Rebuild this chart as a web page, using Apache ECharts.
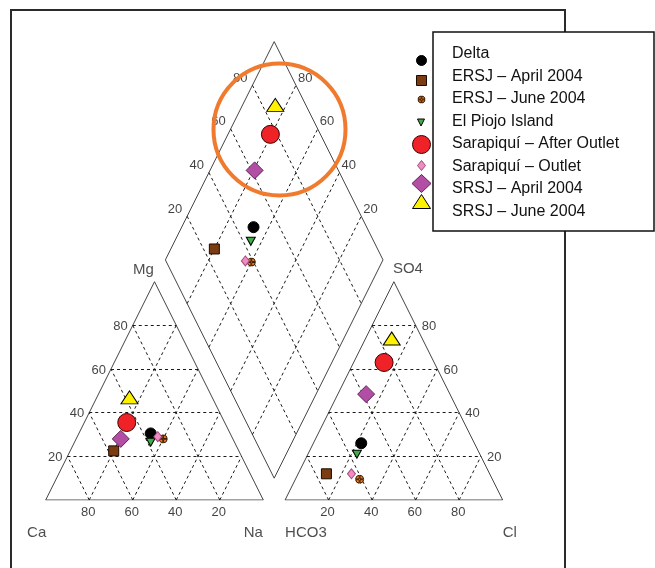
<!DOCTYPE html>
<html><head><meta charset="utf-8">
<script src="https://cdn.jsdelivr.net/npm/echarts@6/dist/echarts.min.js"></script>
<style>html,body{margin:0;padding:0;background:#fff}#c{width:655px;height:568px}</style>
</head><body><div id="c"></div>
<script>
// ---- data (percent of meq) ----
const sampleNames = ['Delta','ERSJ – April 2004','ERSJ – June 2004','El Piojo Island','Sarapiquí – After Outlet','Sarapiquí – Outlet','SRSJ – April 2004','SRSJ – June 2004'];
const caPct   = [36.5, 57.5, 32,   38.5, 45,   34,   51.5, 38];
const mgPct   = [30.5, 22.5, 28,   26.5, 35.5, 29,   28,   47];
const naPct   = [33,   20,   40,   35,   19.5, 37,   20.5, 15];
const hco3Pct = [52,   75,   61,   56.5, 23,   63.5, 38.5, 14];
const so4Pct  = [26,   12,   9.5,  21,   63,   12,   48.5, 74];
const clPct   = [22,   13,   29.5, 22.5, 14,   24.5, 13,   12];
const tickValues = [20, 40, 60, 80];
const cationLabels = ['Ca', 'Mg', 'Na'];
const anionLabels = ['HCO3', 'SO4', 'Cl'];

// ---- Piper geometry (plot units) ----
const GAP = 10;
function cat(ca, mg, na) { const t = ca + mg + na; return [(0.5 * mg + na) / t * 100, mg / t * 100]; }
function an(h, s, c) { const t = h + s + c; return [100 + GAP + (0.5 * s + c) / t * 100, s / t * 100]; }
function dia(na, sc) { return [50 + GAP / 2 + 0.5 * na + 0.5 * sc, 100 + GAP - na + sc]; }

const crossPath = 'path://M11 9L11 0.05A10 10 0 0 1 19.95 9Z M9 9L0.05 9A10 10 0 0 1 9 0.05Z M9 11L9 19.95A10 10 0 0 1 0.05 11Z M11 11L19.95 11A10 10 0 0 1 11 19.95Z';
const downTri = 'path://M0 0L10 0L5 10Z';
const styles = [
  {symbol: 'circle', size: 11, color: '#000000', border: '#000000', leg: 10},
  {symbol: 'rect', size: 10, color: '#7b3c12', border: '#1a0a00', leg: 10},
  {symbol: crossPath, size: 8, color: '#ef7f22', border: '#3a1a00', leg: 7},
  {symbol: downTri, size: [9, 8], color: '#3fae49', border: '#000000', leg: [8, 7]},
  {symbol: 'circle', size: 18, color: '#ee2227', border: '#3a0000', leg: 18},
  {symbol: 'diamond', size: [8, 10], color: '#f38bc3', border: '#a0487e', leg: [8, 10]},
  {symbol: 'diamond', size: 17, color: '#b24fa5', border: '#5e2358', leg: [19, 18]},
  {symbol: 'triangle', size: [17, 13], color: '#fff200', border: '#000000', leg: [18, 14]}
];
const legendIconY = [60, 80, 99, 122, 144, 165, 183, 201];
const legendTextY = [54, 76.5, 99, 121.5, 144, 166.5, 189, 211.5];

// outlines
const outlines = [
  {coords: [cat(100,0,0), cat(0,100,0), cat(0,0,100), cat(100,0,0)]},
  {coords: [an(100,0,0), an(0,100,0), an(0,0,100), an(100,0,0)]},
  {coords: [dia(0,0), dia(100,0), dia(100,100), dia(0,100), dia(0,0)]}
];
const grids = [];
tickValues.forEach(k => {
  grids.push({coords: [cat(100-k,k,0), cat(0,k,100-k)]});
  grids.push({coords: [cat(k,0,100-k), cat(k,100-k,0)]});
  grids.push({coords: [cat(100-k,0,k), cat(0,100-k,k)]});
  grids.push({coords: [an(100-k,k,0), an(0,k,100-k)]});
  grids.push({coords: [an(k,0,100-k), an(k,100-k,0)]});
  grids.push({coords: [an(100-k,0,k), an(0,100-k,k)]});
  grids.push({coords: [dia(k,0), dia(k,100)]});
  grids.push({coords: [dia(0,k), dia(100,k)]});
});

// tick labels
const tickItems = [];
function tl(pos, text, align, offset) {
  tickItems.push({value: pos, label: {formatter: String(text), align: align, offset: offset}});
}
tickValues.forEach(k => {
  tl(cat(k,0,100-k), k, 'center', [-1, 12]);
  tl(cat(100-k,k,0), k, 'right', [-5, 1]);
  tl(an(100-k,0,k), k, 'center', [-1, 12]);
  tl(an(0,k,100-k), k, 'left', [6, 1]);
  tl(dia(0,k), k, 'right', [-5, -7]);
  tl(dia(100-k,100), k, 'left', [2, -7]);
});
const nameItems = [
  {value: cat(100,0,0), label: {formatter: cationLabels[0], align: 'center', offset: [-9, 33]}},
  {value: cat(0,100,0), label: {formatter: cationLabels[1], align: 'center', offset: [-11, -12]}},
  {value: cat(0,0,100), label: {formatter: cationLabels[2], align: 'center', offset: [-10, 33]}},
  {value: an(100,0,0), label: {formatter: anionLabels[0], align: 'left', offset: [0, 33]}},
  {value: an(0,100,0), label: {formatter: anionLabels[1], align: 'left', offset: [-1, -13]}},
  {value: an(0,0,100), label: {formatter: anionLabels[2], align: 'left', offset: [0, 33]}}
];

const FONT = 'Liberation Sans, Arial, sans-serif';
const series = [
  {type: 'lines', coordinateSystem: 'cartesian2d', polyline: true, silent: true, z: 1,
   lineStyle: {color: '#444', width: 1, opacity: 1}, data: outlines},
  {type: 'lines', coordinateSystem: 'cartesian2d', silent: true, z: 1,
   lineStyle: {color: '#1a1a1a', width: 1, type: [3, 3], opacity: 1}, data: grids},
  {type: 'scatter', silent: true, symbolSize: 1, itemStyle: {color: 'rgba(0,0,0,0)'}, z: 3,
   label: {show: true, position: 'inside', color: '#111', fontSize: 13, fontFamily: FONT}, data: tickItems},
  {type: 'scatter', silent: true, symbolSize: 1, itemStyle: {color: 'rgba(0,0,0,0)'}, z: 3,
   label: {show: true, position: 'inside', color: '#222', fontSize: 15, fontFamily: FONT}, data: nameItems}
];
sampleNames.forEach((n, i) => {
  const st = styles[i];
  series.push({
    type: 'scatter', name: n, symbol: st.symbol, symbolSize: st.size, z: 5,
    itemStyle: {color: st.color, borderColor: st.border, borderWidth: 1, opacity: 1},
    data: [cat(caPct[i], mgPct[i], naPct[i]), an(hco3Pct[i], so4Pct[i], clPct[i]), dia(naPct[i], so4Pct[i] + clPct[i])]
  });
});

const legends = sampleNames.map((n, i) => {
  const s = styles[i].leg; const w = Array.isArray(s) ? s[0] : s; const h = Array.isArray(s) ? s[1] : s;
  return {data: [n], left: 421 - w / 2, top: legendIconY[i] - h / 2, itemWidth: w, itemHeight: h, padding: 0,
    selectedMode: false, formatter: () => '', textStyle: {fontSize: 1},
    itemStyle: {borderColor: styles[i].border, borderWidth: 1}};
});

const graphics = [
  {type: 'rect', z: 0, silent: true, shape: {x: 11, y: 10, width: 554, height: 620}, style: {fill: 'none', stroke: '#2a2a2a', lineWidth: 2}},
  {type: 'rect', z: 1, silent: true, shape: {x: 433, y: 32, width: 221, height: 199}, style: {fill: '#fff', stroke: '#111', lineWidth: 1.5}},
  {type: 'circle', z: 20, silent: true, shape: {cx: 279.5, cy: 129.5, r: 66}, style: {fill: 'none', stroke: '#f07b2f', lineWidth: 4}}
];
sampleNames.forEach((n, i) => {
  graphics.push({type: 'text', z: 5, silent: true, x: 452, y: legendTextY[i],
    style: {text: n, fill: '#111', font: '16px ' + FONT, textVerticalAlign: 'middle', verticalAlign: 'middle'}});
});

const chart = echarts.init(document.getElementById('c'), null, {renderer: 'canvas', width: 655, height: 568});
chart.setOption({
  animation: false,
  backgroundColor: '#fff',
  grid: {left: 45.7, right: 152.3, top: 41.6, bottom: 68},
  xAxis: {type: 'value', min: 0, max: 210, show: false},
  yAxis: {type: 'value', min: 0, max: 210, show: false},
  legend: legends,
  graphic: graphics,
  series: series
});
</script></body></html>
